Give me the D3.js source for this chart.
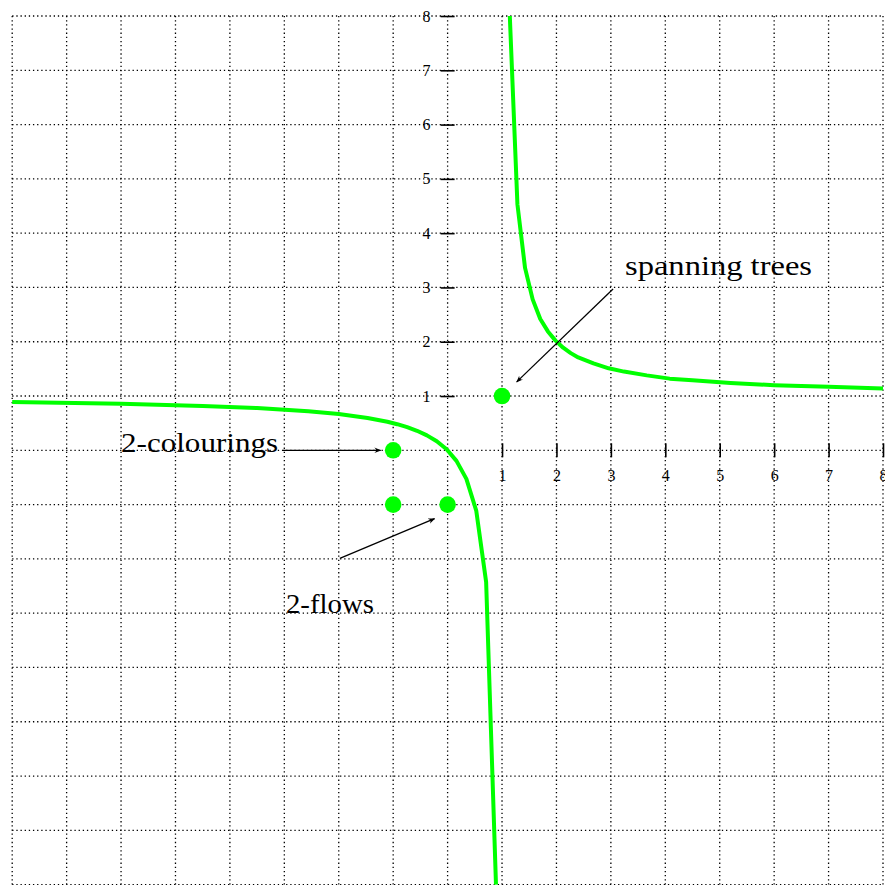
<!DOCTYPE html>
<html>
<head>
<meta charset="utf-8">
<script src="https://cdn.jsdelivr.net/npm/d3@7"></script>
<style>
  html, body { margin: 0; padding: 0; background: #fff; }
  svg { display: block; }
</style>
</head>
<body>
<svg id="chart" width="885" height="885"></svg>
<script>
// Tutte-plane sketch: the hyperbola (x-1)(y-1)=1 with a few notable points.
const gridValues = [-8, -7, -6, -5, -4, -3, -2, -1, 0, 1, 2, 3, 4, 5, 6, 7, 8];
const xTickValues = [1, 2, 3, 4, 5, 6, 7, 8];
const yTickValues = [1, 2, 3, 4, 5, 6, 7, 8];

// upper-right branch of the hyperbola
const upperBranchX = [1.143, 1.283, 1.423, 1.563, 1.703, 1.843, 1.983, 2.123, 2.263, 2.40,
                      2.68, 2.96, 3.24, 3.66, 4.08, 4.5, 5.2, 6.0, 7.0, 8.0];
const upperBranchY = [8.0, 4.53, 3.36, 2.78, 2.42, 2.19, 2.02, 1.89, 1.79, 1.71,
                      1.60, 1.51, 1.45, 1.38, 1.32, 1.29, 1.24, 1.20, 1.17, 1.14];

// lower-left branch of the hyperbola
const lowerBranchX = [-8, -6, -4.5, -3.5, -2.56, -2.0, -1.47, -1.106, -0.925, -0.743,
                      -0.562, -0.380, -0.199, -0.018, 0.163, 0.345, 0.526, 0.708, 0.889];
const lowerBranchY = [0.889, 0.857, 0.818, 0.778, 0.719, 0.667, 0.595, 0.525, 0.481, 0.426,
                      0.360, 0.275, 0.166, 0.018, -0.195, -0.527, -1.110, -2.425, -8.0];

// marked evaluation points
const pointX = [1, -1, -1, 0];
const pointY = [1, 0, -1, -1];

// annotations: label, label anchor (x, y), arrow start and arrow end in data units
const noteLabels = ["spanning trees", "2-colourings", "2-flows"];
const noteTextX = [3.26, -6.0, -2.97];
const noteTextY = [3.22, -0.03, -2.99];
const noteWidths = [187, 157, 88];
const arrowFromX = [3.04, -3.03, -1.98];
const arrowFromY = [2.97, 0.0, -1.99];
const arrowToX = [1.27, -1.23, -0.24];
const arrowToY = [1.26, 0.0, -1.26];

const svg = d3.select("#chart");
const x = d3.scaleLinear().domain([-8, 8]).range([12.2, 883]);
const y = d3.scaleLinear().domain([-8, 8]).range([884.6, 16]);
const green = "#00ff00";

// dotted grid
const grid = svg.append("g")
  .attr("stroke", "#000")
  .attr("stroke-width", 1.3)
  .attr("stroke-dasharray", "1.3 2.85");
grid.selectAll("line.v").data(gridValues).join("line")
  .attr("class", "v")
  .attr("x1", d => x(d)).attr("x2", d => x(d))
  .attr("y1", y(8)).attr("y2", y(-8));
grid.selectAll("line.h").data(gridValues).join("line")
  .attr("class", "h")
  .attr("y1", d => y(d)).attr("y2", d => y(d))
  .attr("x1", x(-8)).attr("x2", x(8));

// axes drawn through the origin, positive ticks only
const xAxis = d3.axisBottom(x).tickValues(xTickValues).tickSize(7).tickPadding(12).tickFormat(d3.format("d"));
const yAxis = d3.axisLeft(y).tickValues(yTickValues).tickSize(7).tickPadding(10).tickFormat(d3.format("d"));

const gx = svg.append("g").attr("transform", `translate(0,${y(0)})`).call(xAxis);
const gy = svg.append("g").attr("transform", `translate(${x(0)},0)`).call(yAxis);
[gx, gy].forEach(g => {
  g.select(".domain").remove();
  g.selectAll(".tick line").attr("stroke", "#000").attr("stroke-width", 1.6);
  g.selectAll(".tick text")
    .attr("fill", "#000")
    .style("font-family", "'Liberation Serif', 'DejaVu Serif', serif")
    .style("font-size", "16px");
});
// ticks straddle the axis line
gx.selectAll(".tick line").attr("y1", -7).attr("y2", 7);
gy.selectAll(".tick line").attr("x1", -7).attr("x2", 7);
gx.selectAll(".tick text").attr("dy", "0.71em").attr("y", 19);
gy.selectAll(".tick text").attr("x", -17);

// hyperbola branches
const line = d3.line().x(d => x(d[0])).y(d => y(d[1]));
const branches = [
  d3.zip(upperBranchX, upperBranchY),
  d3.zip(lowerBranchX, lowerBranchY)
];
svg.append("g").selectAll("path").data(branches).join("path")
  .attr("d", line)
  .attr("fill", "none")
  .attr("stroke", green)
  .attr("stroke-width", 4)
  .attr("stroke-linejoin", "round");

// points
svg.append("g").selectAll("circle").data(d3.zip(pointX, pointY)).join("circle")
  .attr("cx", d => x(d[0]))
  .attr("cy", d => y(d[1]))
  .attr("r", 8.3)
  .attr("fill", green);

// arrowhead
svg.append("defs").append("marker")
  .attr("id", "arrowhead")
  .attr("viewBox", "0 0 10 10")
  .attr("refX", 9).attr("refY", 5)
  .attr("markerWidth", 7).attr("markerHeight", 7)
  .attr("markerUnits", "userSpaceOnUse")
  .attr("orient", "auto")
  .append("path")
  .attr("d", "M0,1 Q5,5 0,9 L10,5 Z")
  .attr("fill", "#000");

svg.append("g").selectAll("line").data(d3.range(noteLabels.length)).join("line")
  .attr("x1", i => x(arrowFromX[i])).attr("y1", i => y(arrowFromY[i]))
  .attr("x2", i => x(arrowToX[i])).attr("y2", i => y(arrowToY[i]))
  .attr("stroke", "#000")
  .attr("stroke-width", 1.3)
  .attr("marker-end", "url(#arrowhead)");

svg.append("g").selectAll("text").data(d3.range(noteLabels.length)).join("text")
  .attr("x", i => x(noteTextX[i]))
  .attr("y", i => y(noteTextY[i]))
  .attr("textLength", i => noteWidths[i])
  .attr("lengthAdjust", "spacingAndGlyphs")
  .style("font-family", "'Liberation Serif', 'DejaVu Serif', serif")
  .style("font-size", "28px")
  .attr("fill", "#000")
  .text(i => noteLabels[i]);
</script>
</body>
</html>
